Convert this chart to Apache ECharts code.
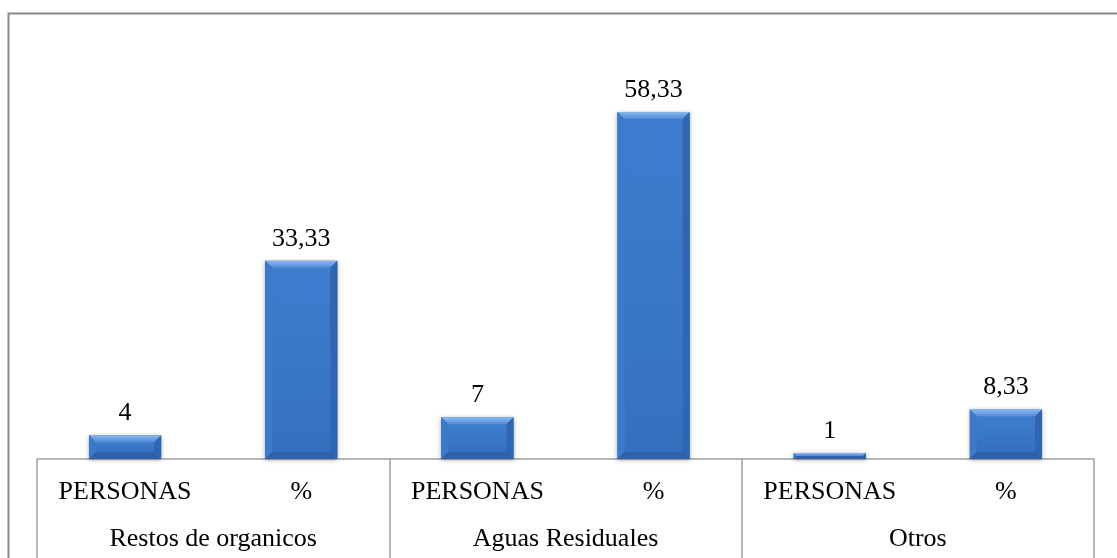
<!DOCTYPE html>
<html>
<head>
<meta charset="utf-8">
<script src="https://cdn.jsdelivr.net/npm/echarts@6/dist/echarts.min.js"></script>
<style>
  html, body { margin: 0; padding: 0; background: #fff; }
  #chart { width: 1117px; height: 558px; }
</style>
</head>
<body>
<div id="chart"></div>
<script>
// Categories: measure type within each residue group
const subCategories = ['PERSONAS', '%', 'PERSONAS', '%', 'PERSONAS', '%'];
const groups = ['Restos de organicos', 'Aguas Residuales', 'Otros'];
// Values per group: people count and percentage
const personas = [4, 7, 1];
const porcentaje = [33.33, 58.33, 8.33];

const values = [];
groups.forEach((g, i) => { values.push(personas[i], porcentaje[i]); });
const seriesData = values.map((v, i) => [i, v]);

const FONT = 'Liberation Serif';
const fmt = v => String(v).replace('.', ',');

// Bevelled bar: face plus four trapezoid edges
function renderBevelBar(params, api) {
  const xi = api.value(0), v = api.value(1);
  const top = api.coord([xi, v]);
  const base = api.coord([xi, 0]);
  const w = api.size([1, 0])[0] * 0.41;
  const l = top[0] - w / 2, r = top[0] + w / 2;
  const yt = top[1], yb = base[1];
  const h = yb - yt;
  const b = Math.min(7, h / 2);
  const children = [
    { type: 'rect', shape: { x: l, y: yt, width: w, height: h },
      style: { fill: '#3a76c4', shadowBlur: 4, shadowColor: 'rgba(0,0,0,0.35)', shadowOffsetY: 1 } },
    { type: 'rect', shape: { x: l + b, y: yt + b, width: w - 2 * b, height: Math.max(0, h - 2 * b) },
      style: { fill: new echarts.graphic.LinearGradient(0, 0, 0, 1, [
        { offset: 0, color: '#3e7dce' }, { offset: 1, color: '#3570bf' }]) } },
    { type: 'polygon', shape: { points: [[l, yt], [r, yt], [r - b, yt + b], [l + b, yt + b]] },
      style: { fill: new echarts.graphic.LinearGradient(0, 0, 0, 1, [
        { offset: 0, color: '#8cbaf0' }, { offset: 1, color: '#4f8bd8' }]) } },
    { type: 'polygon', shape: { points: [[l, yt], [l + b, yt + b], [l + b, yb - b], [l, yb]] },
      style: { fill: '#3b79c9' } },
    { type: 'polygon', shape: { points: [[r, yt], [r - b, yt + b], [r - b, yb - b], [r, yb]] },
      style: { fill: '#2f66b2' } },
    { type: 'polygon', shape: { points: [[l, yb], [l + b, yb - b], [r - b, yb - b], [r, yb]] },
      style: { fill: '#2d62aa' } },
    { type: 'text', style: { text: fmt(v), x: top[0], y: yt - 9, align: 'center', verticalAlign: 'bottom',
      fontFamily: FONT, fontSize: 26, fill: '#000' } }
  ];
  return { type: 'group', children };
}

const chart = echarts.init(document.getElementById('chart'), null, { renderer: 'canvas' });
chart.setOption({
  animation: false,
  backgroundColor: '#fff',
  textStyle: { fontFamily: FONT },
  graphic: [{
    type: 'rect', left: 6, top: 11, z: -10, silent: true,
    shape: { width: 1300, height: 700 },
    style: { fill: 'none', stroke: '#8a8a8a', lineWidth: 2 }
  }],
  grid: { left: 37, right: 23, top: 42.5, bottom: 99 },
  xAxis: [{
    type: 'category', data: subCategories, position: 'bottom',
    axisLine: { show: true, lineStyle: { color: '#a0a0a0', width: 1.5 } },
    axisTick: { show: false },
    axisLabel: { margin: 20, fontFamily: FONT, fontSize: 26, color: '#000', interval: 0 }
  }, {
    type: 'category', data: groups, position: 'bottom',
    axisLine: { show: false },
    axisTick: { show: true, length: 110, lineStyle: { color: '#a0a0a0', width: 1.5 } },
    axisLabel: { margin: 67, fontFamily: FONT, fontSize: 26, color: '#000', interval: 0 }
  }],
  yAxis: { type: 'value', min: 0, max: 70, show: false, splitLine: { show: false } },
  series: [{
    type: 'custom', xAxisIndex: 0, renderItem: renderBevelBar,
    encode: { x: 0, y: 1 }, data: seriesData
  }]
});
</script>
</body>
</html>
